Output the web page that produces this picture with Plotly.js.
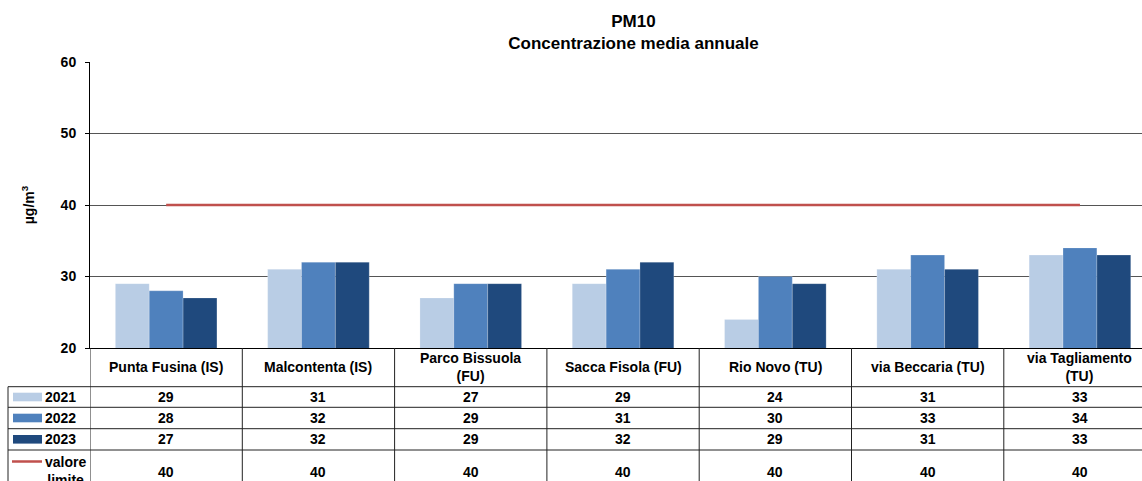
<!DOCTYPE html>
<html><head><meta charset="utf-8">
<script src="https://cdn.plot.ly/plotly-3.0.1.min.js"></script>
<style>html,body{margin:0;padding:0;background:#fff;}#chart{width:1142px;height:481px;}</style>
</head><body><div id="chart"></div>
<script>
const categories = ["Punta Fusina (IS)", "Malcontenta (IS)", "Parco Bissuola<br>(FU)", "Sacca Fisola (FU)", "Rio Novo (TU)", "via Beccaria (TU)", "via Tagliamento<br>(TU)"];
const years = ["2021", "2022", "2023"];
const values2021 = [29, 31, 27, 29, 24, 31, 33];
const values2022 = [28, 32, 29, 31, 30, 33, 34];
const values2023 = [27, 32, 29, 32, 29, 31, 33];
const limitLabel = "valore<br>limite";
const limitValues = [40, 40, 40, 40, 40, 40, 40];
const yTicks = [20, 30, 40, 50, 60];

const colors = ["#b9cde5", "#4f81bd", "#1f497d"];
const limitColor = "#c0504d";
const FONT = "Liberation Sans, Arial, sans-serif";
const FS = 14;

// pixel geometry helpers
const W = 1142, H = 481, L = 90, T = 62, B = 133;
const plotH = H - T - B, plotW = W - L;
const catPx = 152.3;
const py = Y => (H - B - Y) / plotH;
const px = X => (X - L) / plotW;
const bold = (size) => ({family: FONT, size: size, color: "#000", weight: "bold"});

const series = [values2021, values2022, values2023];
const traces = series.map((v, i) => ({
  type: "bar", x: categories, y: v, name: years[i],
  marker: {color: colors[i], line: {color: "rgba(255,255,255,0.35)", width: 0.6}},
  hoverinfo: "none"
}));
traces.push({type: "scatter", mode: "lines", x: categories, y: limitValues, name: "valore limite",
  line: {color: limitColor, width: 2.5}, hoverinfo: "none"});

// table geometry (pixel rows)
const rowEdges = [348, 386.7, 407.3, 428.7, 450, 490];
const rowCenters = [367, 397, 418, 439.3, 471.5];
const shapes = [], annotations = [];
const lineStyle = {color: "#222", width: 1};
for (let r = 1; r < rowEdges.length - 1; r++) {
  shapes.push({type: "line", xref: "paper", yref: "paper", x0: px(8), x1: 1, y0: py(rowEdges[r]), y1: py(rowEdges[r]), line: lineStyle});
}
shapes.push({type: "line", xref: "paper", yref: "paper", x0: px(8), x1: px(8), y0: py(rowEdges[1]), y1: py(rowEdges[5]), line: lineStyle});
for (let k = 0; k <= categories.length; k++) {
  shapes.push({type: "line", xref: "x", yref: "paper", x0: k - 0.5, x1: k - 0.5, y0: 0, y1: py(rowEdges[5]), line: lineStyle});
}
// legend keys
for (let i = 0; i < 3; i++) {
  const yc = rowCenters[i + 1];
  shapes.push({type: "rect", xref: "paper", yref: "paper", x0: px(13), x1: px(42), y0: py(yc - 4.3), y1: py(yc + 4.3), fillcolor: colors[i], line: {width: 0}});
  annotations.push({xref: "paper", yref: "paper", x: px(43), y: py(yc), xanchor: "left", yanchor: "middle", showarrow: false, text: years[i], font: bold(FS)});
}
shapes.push({type: "line", xref: "paper", yref: "paper", x0: px(12), x1: px(42), y0: py(461.5), y1: py(461.5), line: {color: limitColor, width: 2.5}});
annotations.push({xref: "paper", yref: "paper", x: px(43), y: py(470.5), xanchor: "left", yanchor: "middle", showarrow: false, text: limitLabel, font: bold(FS)});

const rows = [values2021, values2022, values2023, limitValues];
categories.forEach((c, j) => {
  annotations.push({xref: "x", yref: "paper", x: c, y: py(rowCenters[0]), xanchor: "center", yanchor: "middle", showarrow: false, text: c, font: bold(FS)});
  rows.forEach((row, r) => {
    annotations.push({xref: "x", yref: "paper", x: c, y: py(rowCenters[r + 1]), xanchor: "center", yanchor: "middle", showarrow: false,
      text: String(row[j]), font: bold(FS)});
  });
});

const layout = {
  width: W, height: H,
  margin: {l: L, r: 0, t: T, b: B, pad: 0},
  paper_bgcolor: "#fff", plot_bgcolor: "#fff",
  showlegend: false,
  barmode: "group", bargap: 0.333, bargroupgap: 0,
  title: {text: "PM10<br>Concentrazione media annuale", x: 590 / W, xanchor: "center", xref: "paper",
    y: 1 - 27 / H, yanchor: "middle", yref: "container", font: bold(17)},
  xaxis: {type: "category", range: [-0.5, -0.5 + plotW / catPx], showticklabels: false, ticks: "",
    showgrid: false, zeroline: false, showline: true, linecolor: "#000", linewidth: 1, fixedrange: true},
  yaxis: {range: [20, 60], tickvals: yTicks, ticktext: yTicks.map(String), showgrid: true, gridcolor: "#555", gridwidth: 1,
    zeroline: false, showline: true, linecolor: "#000", linewidth: 1, ticks: "outside", ticklen: 4, tickcolor: "#000",
    ticklabelstandoff: 6, tickfont: bold(FS),
    title: {text: "µg/m<sup>3</sup>", standoff: 22, font: bold(FS)}},
  shapes: shapes, annotations: annotations
};
Plotly.newPlot("chart", traces, layout, {staticPlot: true, displayModeBar: false});
</script></body></html>
